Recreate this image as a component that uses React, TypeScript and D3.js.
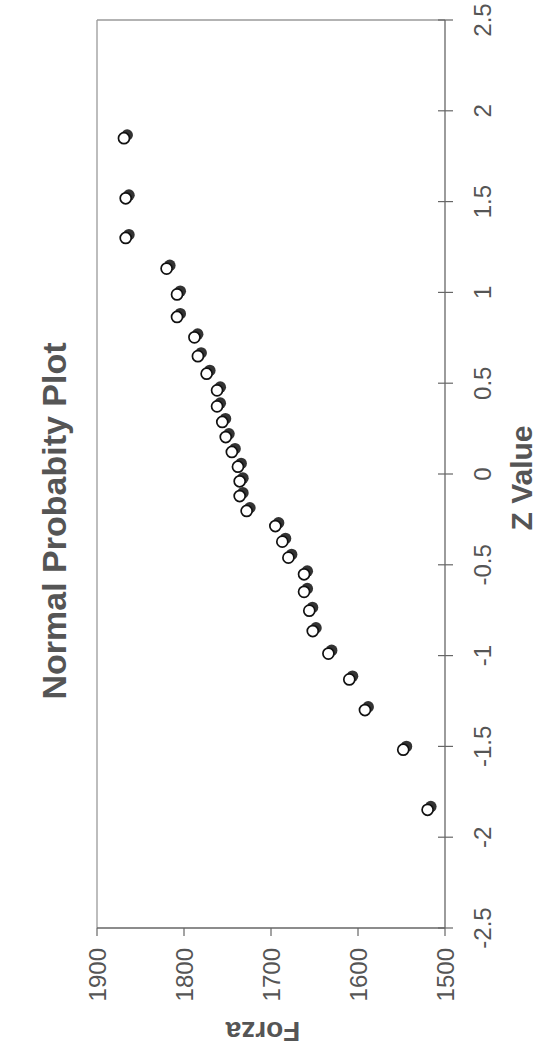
import React from 'react';
import * as d3 from 'd3';

// Normal probability plot data (z score vs. Forza)
const zValues = [
  1.849, 1.518, 1.3, 1.131, 0.989, 0.865, 0.7525, 0.649, 0.5525, 0.4605,
  0.3724, 0.2868, 0.2035, 0.1216, 0.0404, -0.0404, -0.1216, -0.2035, -0.2868, -0.3724,
  -0.4605, -0.5525, -0.649, -0.7525, -0.865, -0.989, -1.131, -1.3, -1.518, -1.849,
];
const forzaValues = [
  1869, 1867, 1867, 1820, 1808, 1808, 1788, 1784, 1774, 1762,
  1762, 1756, 1752, 1745, 1738, 1736, 1736, 1728, 1695, 1687,
  1680, 1662, 1662, 1656, 1652, 1634, 1610, 1592, 1548, 1520,
];
const zTicks = [-2.5, -2, -1.5, -1, -0.5, 0, 0.5, 1, 1.5, 2, 2.5];
const forzaTicks = [1500, 1600, 1700, 1800, 1900];

const W = 538;
const H = 1059;
const FONT = '"Liberation Sans", Arial, Helvetica, sans-serif';

export default function App() {
  // chart is laid out in an unrotated 1059 x 538 frame and turned 90° CCW
  const x = d3.scaleLinear().domain([-2.5, 2.5]).range([131, 1039]);
  const y = d3.scaleLinear().domain([1500, 1900]).range([445, 97]);
  const [x0, x1] = x.range();
  const [yb, yt] = [y(1500), y(1900)];

  return (
    <svg
      width={W}
      height={H}
      style={{ position: 'absolute', top: 0, left: 0, background: '#fff' }}
      fontFamily={FONT}
    >
      <rect x={0} y={0} width={W} height={H} fill="#fff" />
      <g transform={`translate(0,${H}) rotate(-90)`}>
        {/* frame */}
        <line x1={x0} x2={x1} y1={yt} y2={yt} stroke="#9a9a9a" strokeWidth={1.3} />
        <line x1={x1} x2={x1} y1={yt} y2={yb} stroke="#9a9a9a" strokeWidth={1.3} />
        {/* left (Forza) axis */}
        <line x1={x0} x2={x0} y1={yt} y2={yb} stroke="#666" strokeWidth={1.3} />
        {forzaTicks.map((t) => (
          <g key={'f' + t}>
            <line x1={x0 - 8} x2={x0} y1={y(t)} y2={y(t)} stroke="#666" strokeWidth={1.2} />
            <text
              x={x0 - 20}
              y={y(t)}
              textAnchor="end"
              dominantBaseline="central"
              fontSize={24}
              fill="#555"
            >
              {String(t)}
            </text>
          </g>
        ))}
        {/* bottom (Z) axis */}
        <line x1={x0} x2={x1} y1={yb} y2={yb} stroke="#666" strokeWidth={1.3} />
        {zTicks.map((t) => (
          <g key={'z' + t}>
            <line x1={x(t)} x2={x(t)} y1={yb - 7} y2={yb + 8} stroke="#666" strokeWidth={1.2} />
            <text x={x(t)} y={yb + 46} textAnchor="middle" fontSize={24} fill="#555">
              {String(t)}
            </text>
          </g>
        ))}
        {/* points */}
        {zValues.map((z, i) => (
          <g key={'p' + i}>
            <circle cx={x(z) + 3.2} cy={y(forzaValues[i]) + 3.2} r={5.8} fill="#333" />
            <circle cx={x(z)} cy={y(forzaValues[i])} r={5.5} fill="#fff" stroke="#111" strokeWidth={1.7} />
          </g>
        ))}
        {/* titles */}
        <text x={538} y={66} textAnchor="middle" fontSize={34} fontWeight="bold" fill="#555">
          Normal Probabity Plot
        </text>
        <text x={581} y={532} textAnchor="middle" fontSize={30} fontWeight="bold" fill="#555">
          Z Value
        </text>
        <text
          transform={`translate(37,${(yt + yb) / 2 - 8}) rotate(-90)`}
          textAnchor="middle"
          fontSize={28}
          fontWeight="bold"
          fill="#555"
        >
          Forza
        </text>
      </g>
    </svg>
  );
}
